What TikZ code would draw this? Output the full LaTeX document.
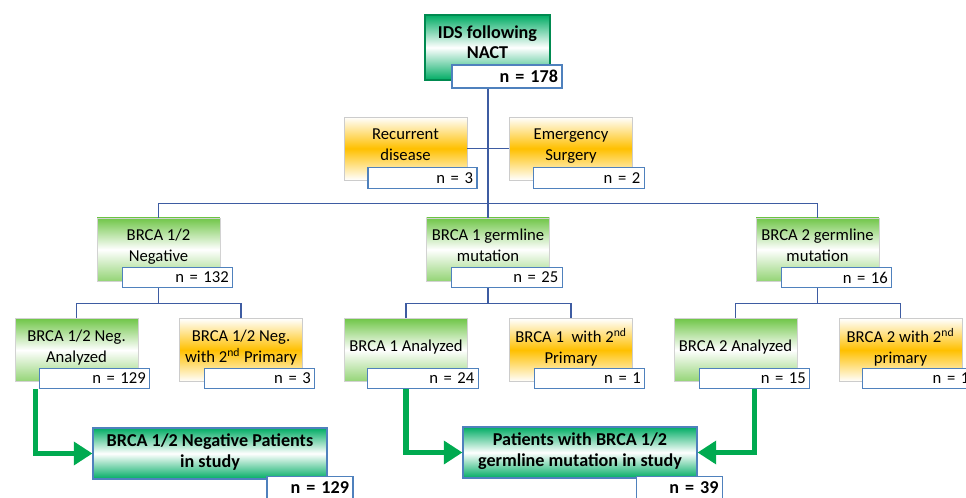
\documentclass[tikz,border=0pt]{standalone}
\usepackage{fontspec}
\setmainfont{Carlito}
\usetikzlibrary{positioning,calc,arrows.meta}

\definecolor{linkblue}{RGB}{62,92,162}
\definecolor{nblue}{RGB}{79,129,189}
\definecolor{lgreen}{RGB}{112,198,72}
\definecolor{lorange}{RGB}{255,192,0}
\definecolor{dgreen}{RGB}{0,172,100}
\definecolor{agreen}{RGB}{0,170,80}

\begin{document}
\begin{tikzpicture}[x=0.75pt,y=-0.75pt,
    base/.style={inner sep=2pt, align=center, text depth=6pt, font=\fontsize{12.5}{15.5}\selectfont},
    greenbox/.style={base, draw=gray!35, top color=lgreen, bottom color=lgreen!75, middle color=white, minimum width=92pt, minimum height=47.25pt},
    orangebox/.style={base, draw=gray!40, top color=white, bottom color=white, middle color=lorange, minimum width=92pt, minimum height=47.25pt},
    darkbox/.style={base, font=\fontsize{13.6}{15.5}\selectfont\bfseries, top color=dgreen, bottom color=dgreen, middle color=white, line width=0.8pt},
    nbox/.style={base, draw=nblue, line width=0.9pt, fill=white, align=right, text depth=, inner xsep=3pt, inner ysep=0pt, text width=77pt, minimum height=15.5pt},
    nbold/.style={nbox, font=\fontsize{13.6}{15.5}\selectfont\bfseries, text width=58.5pt, minimum height=17.25pt},
    link/.style={draw=linkblue, line width=0.8pt},
    garrow/.style={draw=agreen, line width=3.8pt, -{Triangle[length=14pt,width=17pt]}}]

    \useasboundingbox (0,0) rectangle (966,498);

    % top of the chart
    \node[darkbox, draw=dgreen!80!black, text depth=8pt, minimum width=93.75pt, minimum height=48.75pt] (T) at (487.5,47.5) {IDS following\\NACT};
    \node[nbold, text width=76.5pt] (nT) at (507,76.5) {n = 178};

    % excluded
    \node[orangebox] (Rec) at (405.5,148.5) {Recurrent\\disease};
    \node[nbox, text width=75.75pt] (nRec) at (422.5,178) {n = 3};
    \node[orangebox] (Emg) at (571,148.5) {Emergency\\Surgery};
    \node[nbox] (nEmg) at (589,178) {n = 2};

    % BRCA status
    \node[greenbox] (Neg) at (158.5,249.5) {BRCA 1/2\\Negative};
    \node[nbox] (nNeg) at (177.5,277.5) {n = 132};
    \node[greenbox] (B1) at (488,249.5) {BRCA 1 germline\\mutation};
    \node[nbox] (nB1) at (507,277.5) {n = 25};
    \node[greenbox] (B2) at (817.5,249.5) {BRCA 2 germline\\mutation};
    \node[nbox] (nB2) at (836.5,277.5) {n = 16};

    % analyzed / second primary
    \node[greenbox] (NA) at (76.5,350) {BRCA 1/2 Neg.\\Analyzed};
    \node[nbox] (nNA) at (94.5,378.5) {n = 129};
    \node[orangebox] (NP) at (241,350) {BRCA 1/2 Neg.\\with 2\textsuperscript{nd} Primary};
    \node[nbox] (nNP) at (259.5,378.5) {n = 3};
    \node[greenbox] (A1) at (406,350) {BRCA 1 Analyzed};
    \node[nbox] (nA1) at (423,378.5) {n = 24};
    \node[orangebox] (P1) at (571,350) {BRCA 1\ \ with 2\textsuperscript{nd}\\Primary};
    \node[nbox] (nP1) at (589.5,378.5) {n = 1};
    \node[greenbox] (A2) at (735.5,350) {BRCA 2 Analyzed};
    \node[nbox] (nA2) at (754.5,378.5) {n = 15};
    \node[orangebox] (P2) at (900.5,350) {BRCA 2 with 2\textsuperscript{nd}\\primary};
    \node[nbox] (nP2) at (918,378.5) {n = 1};

    % patients in study
    \node[darkbox, draw=nblue, text depth=4pt, minimum width=175.5pt, minimum height=38.25pt] (F1) at (210,453.5) {BRCA 1/2 Negative Patients\\in study};
    \node[nbold] (nF1) at (310,488) {n = 129};
    \node[darkbox, draw=nblue, text depth=4pt, minimum width=175.5pt, minimum height=38.25pt] (F2) at (580,452.5) {Patients with BRCA 1/2\\germline mutation in study};
    \node[nbold] (nF2) at (679.5,488) {n = 39};

    % connectors
    \coordinate (hub) at ($(B1 |- nEmg.south)!.5!(B1.north)$);
    \draw[link] (nT.south -| B1) -- (B1.north);
    \draw[link] (Rec.east) -- (Emg.west);
    \draw[link] (Neg.north) |- (hub) -| (B2.north);

    \coordinate (s1) at ($(Neg |- nNeg.south)!.5!(Neg |- NA.north)$);
    \draw[link] (nNeg.south -| Neg) -- (s1);
    \draw[link] (NA.north) |- (s1) -| (NP.north);
    \coordinate (s2) at ($(B1 |- nB1.south)!.5!(B1 |- A1.north)$);
    \draw[link] (nB1.south -| B1) -- (s2);
    \draw[link] (A1.north) |- (s2) -| (P1.north);
    \coordinate (s3) at ($(B2 |- nB2.south)!.5!(B2 |- A2.north)$);
    \draw[link] (nB2.south -| B2) -- (s3);
    \draw[link] (A2.north) |- (s3) -| (P2.north);

    \draw[garrow] ($(NA.south west)+(21,7)$) |- (F1.west);
    \draw[garrow] (nA1.south -| A1) |- (F2.west);
    \draw[garrow] (nA2.south) |- (F2.east);
\end{tikzpicture}
\end{document}
